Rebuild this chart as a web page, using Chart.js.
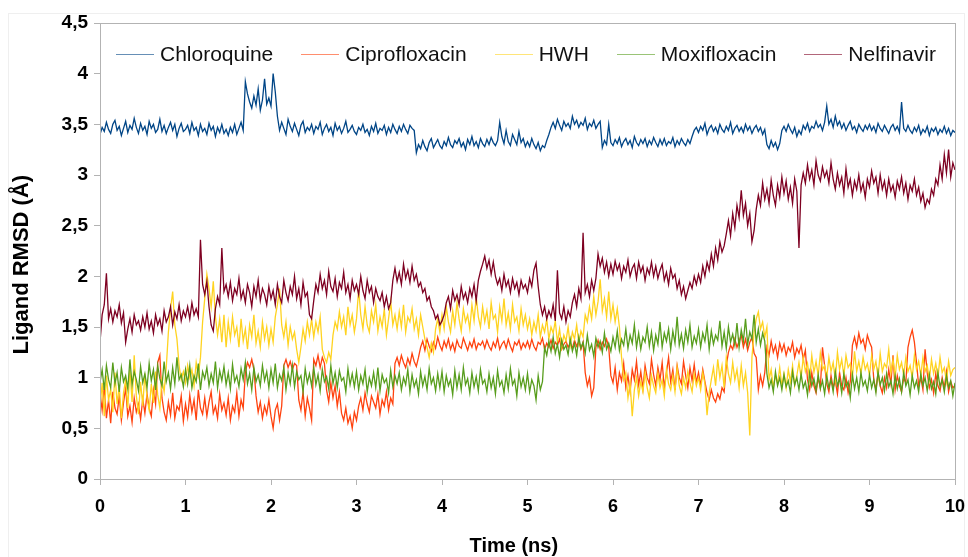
<!DOCTYPE html>
<html>
<head>
<meta charset="utf-8">
<script src="https://cdn.jsdelivr.net/npm/chart.js@4.4.1/dist/chart.umd.min.js"></script>
<style>
  html, body { margin: 0; padding: 0; background: #fff; }
  #wrap { position: relative; width: 968px; height: 557px; overflow: hidden; }
  #frame { position: absolute; left: 8px; top: 13px; width: 955px; height: 560px; border: 1px solid #efefef; }
  #chart { position: absolute; left: 0; top: 0; }
  #legend {
    position: absolute; left: 116px; top: 42px; display: flex; gap: 28px;
    font: 21px "Liberation Sans", Arial, sans-serif; color: #111;
  }
  .item { display: flex; align-items: center; }
  .swatch { display: block; width: 38px; height: 0; border-top: 1px solid; margin-right: 6px; opacity: .6; }
</style>
</head>
<body>
<div id="wrap">
  <div id="frame"></div>
  <canvas id="chart" width="968" height="557"></canvas>
  <div id="legend"></div>
</div>
<script>
// RMSD del ligando frente al tiempo, una muestra cada 0,025 ns (0 .. 10 ns).
const STEP = 0.025;
const SERIES = ["Chloroquine", "Ciprofloxacin", "HWH", "Moxifloxacin", "Nelfinavir"];
const COLORS = ["#004586", "#ff420e", "#ffd320", "#579d1c", "#7e0021"];
const Y_TICKS = [0, 0.5, 1, 1.5, 2, 2.5, 3, 3.5, 4, 4.5];
const X_TITLE = "Time (ns)";
const Y_TITLE = "Ligand RMSD (Å)";

// una fila = 0,5 ns
const CHLOROQUINE = [
  3.40,3.47,3.43,3.52,3.45,3.41,3.50,3.54,3.44,3.48,3.39,3.46,3.53,3.42,3.49,3.45,3.56,3.47,3.41,3.51,
  3.44,3.48,3.40,3.53,3.46,3.50,3.42,3.45,3.55,3.43,3.49,3.41,3.47,3.52,3.44,3.50,3.38,3.46,3.51,3.43,
  3.45,3.49,3.41,3.52,3.44,3.47,3.39,3.50,3.43,3.46,3.40,3.51,3.44,3.48,3.38,3.47,3.42,3.50,3.41,3.45,
  3.39,3.47,3.42,3.50,3.40,3.46,3.52,3.44,3.92,3.80,3.72,3.66,3.78,3.69,3.85,3.64,3.74,3.95,3.70,3.76,
  3.68,4.00,3.82,3.58,3.44,3.52,3.46,3.40,3.55,3.48,3.43,3.51,3.45,3.39,3.49,3.53,3.42,3.47,3.44,3.50,
  3.41,3.48,3.45,3.52,3.40,3.46,3.50,3.43,3.47,3.39,3.51,3.44,3.48,3.41,3.46,3.53,3.42,3.45,3.49,3.43,
  3.40,3.47,3.44,3.50,3.42,3.45,3.39,3.48,3.43,3.51,3.41,3.46,3.44,3.49,3.40,3.47,3.42,3.50,3.45,3.41,
  3.48,3.43,3.50,3.45,3.41,3.49,3.46,3.44,3.22,3.30,3.26,3.34,3.28,3.24,3.32,3.36,3.27,3.31,3.35,3.29,
  3.26,3.33,3.29,3.37,3.30,3.27,3.34,3.31,3.36,3.28,3.32,3.25,3.35,3.30,3.38,3.29,3.33,3.27,3.36,3.31,
  3.28,3.35,3.30,3.37,3.32,3.29,3.34,3.52,3.38,3.31,3.44,3.33,3.29,3.40,3.35,3.30,3.43,3.32,3.36,3.28,
  3.33,3.28,3.36,3.30,3.26,3.32,3.24,3.29,3.27,3.34,3.40,3.47,3.52,3.46,3.55,3.49,3.44,3.53,3.48,3.51,
  3.46,3.58,3.50,3.54,3.47,3.52,3.49,3.56,3.45,3.51,3.48,3.54,3.46,3.50,3.53,3.27,3.34,3.30,3.50,3.32,
  3.29,3.35,3.31,3.37,3.28,3.33,3.36,3.30,3.34,3.27,3.38,3.32,3.29,3.35,3.31,3.36,3.28,3.34,3.30,3.37,
  3.32,3.28,3.35,3.30,3.36,3.29,3.33,3.31,3.37,3.28,3.34,3.30,3.36,3.32,3.29,3.35,3.31,3.38,3.44,3.47,
  3.42,3.48,3.44,3.51,3.40,3.46,3.49,3.43,3.47,3.41,3.50,3.45,3.42,3.48,3.44,3.52,3.41,3.46,3.49,3.43,
  3.47,3.42,3.50,3.44,3.48,3.41,3.46,3.49,3.43,3.47,3.40,3.45,3.30,3.26,3.34,3.28,3.32,3.25,3.31,3.44,
  3.48,3.43,3.50,3.45,3.41,3.47,3.38,3.44,3.40,3.49,3.45,3.51,3.43,3.48,3.46,3.53,3.47,3.50,3.44,3.52,
  3.68,3.50,3.55,3.47,3.58,3.49,3.53,3.46,3.51,3.44,3.49,3.53,3.45,3.48,3.42,3.50,3.46,3.43,3.49,3.45,
  3.50,3.44,3.48,3.42,3.51,3.46,3.43,3.49,3.45,3.41,3.47,3.50,3.44,3.48,3.42,3.72,3.46,3.43,3.49,3.44,
  3.41,3.47,3.43,3.49,3.40,3.45,3.42,3.48,3.39,3.46,3.43,3.47,3.40,3.45,3.42,3.48,3.41,3.46,3.39,3.44,
  3.42,
];

const CIPROFLOXACIN = [
  0.85,0.68,0.92,0.60,0.78,0.55,0.86,0.70,0.64,0.82,0.58,0.75,0.90,0.62,0.72,0.56,0.80,0.66,0.74,0.59,
  0.79,0.65,0.84,0.70,0.62,0.88,0.74,1.15,1.22,0.80,0.66,0.58,0.76,0.63,0.85,0.60,0.72,0.68,0.82,0.57,
  0.74,0.61,0.83,0.66,0.78,0.58,0.88,0.70,0.64,0.80,0.62,0.76,0.86,0.65,0.72,0.60,0.84,0.68,0.75,0.63,
  0.80,0.58,0.72,0.66,0.85,0.62,0.78,0.70,1.05,1.15,1.10,1.18,1.08,0.82,0.66,0.76,0.60,0.72,0.64,0.78,
  0.62,0.50,0.68,0.74,0.58,0.72,1.12,1.18,1.10,1.16,1.08,1.14,1.12,0.78,0.68,0.86,0.62,0.80,0.70,0.58,
  1.18,1.12,1.22,1.10,1.20,1.14,0.88,0.76,0.95,0.80,0.92,0.72,0.86,0.65,0.58,0.70,0.55,0.62,0.50,0.66,
  0.58,0.72,0.80,0.68,0.85,0.74,0.66,0.82,0.76,0.70,0.84,0.64,0.78,0.72,0.86,0.68,0.80,0.74,1.14,1.20,
  1.12,1.22,1.15,1.10,1.19,1.13,1.24,1.16,1.11,1.20,1.30,1.36,1.27,1.38,1.31,1.26,1.35,1.29,1.40,1.32,
  1.27,1.36,1.30,1.38,1.28,1.34,1.26,1.37,1.31,1.29,1.39,1.33,1.27,1.35,1.30,1.38,1.28,1.34,1.32,1.36,
  1.29,1.37,1.31,1.27,1.35,1.30,1.39,1.28,1.33,1.36,1.29,1.38,1.31,1.26,1.35,1.32,1.37,1.28,1.34,1.30,
  1.36,1.29,1.38,1.31,1.27,1.35,1.33,1.39,1.28,1.34,1.30,1.37,1.29,1.35,1.32,1.38,1.28,1.33,1.36,1.30,
  1.34,1.29,1.37,1.31,1.36,1.28,1.35,1.05,0.92,1.00,0.82,0.90,1.30,1.37,1.28,1.35,1.31,1.38,1.30,1.02,
  0.95,1.10,0.88,1.05,0.97,1.14,0.90,1.02,0.86,1.08,0.98,1.16,0.93,1.06,0.89,1.12,1.00,0.94,1.18,1.03,
  0.92,1.10,0.98,1.15,0.90,1.05,1.20,0.96,1.08,0.88,1.12,1.00,0.94,1.16,1.02,0.90,1.10,0.97,1.13,0.95,
  1.05,0.92,1.08,0.96,0.85,0.78,0.88,0.80,0.76,0.84,0.79,0.90,0.86,1.12,1.25,1.32,1.28,1.38,1.30,1.36,
  1.42,1.30,1.38,1.27,1.35,1.40,1.24,1.20,0.88,1.02,0.92,1.05,1.30,1.22,1.36,1.25,1.32,1.20,1.34,1.26,
  1.33,1.22,1.30,1.26,1.35,1.20,1.29,1.24,1.32,1.18,1.27,0.98,0.88,1.05,0.92,0.85,1.00,0.90,1.30,1.12,
  0.94,0.86,1.02,0.90,0.97,0.84,1.05,0.92,0.88,1.00,0.85,0.96,1.32,1.40,1.30,1.44,1.34,1.38,1.28,1.42,
  1.35,1.30,0.98,0.88,1.05,0.92,0.85,1.00,0.90,1.08,0.94,1.22,0.88,1.02,0.92,0.86,1.00,0.95,1.30,1.40,
  1.47,1.35,1.15,0.92,1.00,0.88,1.28,1.05,0.90,0.98,0.85,1.04,0.92,0.87,1.00,0.90,1.06,0.86,0.96,0.90,
  0.92,
];

const HWH = [
  0.70,0.95,0.62,1.02,0.78,0.88,0.66,1.05,0.74,0.92,0.60,0.85,0.98,0.70,1.08,0.76,1.22,0.82,0.64,0.96,
  0.72,1.04,0.80,0.68,0.94,0.75,1.06,0.83,0.70,0.98,0.86,1.10,1.45,1.68,1.85,1.52,1.38,1.12,0.98,1.06,
  0.95,1.12,1.00,1.08,0.92,1.15,1.02,1.20,1.55,1.78,2.02,1.88,1.70,1.95,1.60,1.42,1.58,1.35,1.62,1.30,
  1.55,1.38,1.60,1.42,1.50,1.30,1.58,1.36,1.48,1.28,1.52,1.40,1.62,1.34,1.46,1.30,1.55,1.38,1.50,1.32,
  1.48,1.35,1.60,1.72,1.88,1.52,1.40,1.55,1.32,1.50,1.38,1.45,1.28,1.15,1.30,1.48,1.36,1.55,1.42,1.58,
  1.40,1.55,1.45,1.60,1.28,1.20,1.15,1.25,1.18,1.42,1.55,1.48,1.65,1.50,1.60,1.42,1.70,1.52,1.62,1.45,
  1.58,1.87,1.62,1.48,1.70,1.52,1.45,1.66,1.55,1.72,1.46,1.60,1.50,1.68,1.42,1.58,1.75,1.52,1.62,1.48,
  1.65,1.50,1.72,1.45,1.60,1.55,1.68,1.48,1.58,1.42,1.62,1.50,1.38,1.30,1.20,1.34,1.25,1.48,1.58,1.45,
  1.62,1.48,1.70,1.55,1.45,1.66,1.52,1.74,1.58,1.46,1.68,1.55,1.62,1.48,1.72,1.56,1.80,1.60,1.50,1.70,
  1.55,1.66,1.48,1.74,1.58,1.62,1.45,1.70,1.56,1.78,1.52,1.64,1.48,1.72,1.55,1.60,1.46,1.68,1.52,1.62,
  1.48,1.58,1.42,1.55,1.46,1.62,1.40,1.52,1.45,1.58,1.38,1.50,1.44,1.56,1.35,1.48,1.30,1.42,1.36,1.50,
  1.32,1.45,1.38,1.52,1.34,1.46,1.40,1.62,1.55,1.70,1.58,1.80,1.62,1.75,1.97,1.66,1.78,1.60,1.85,1.58,
  1.72,1.55,1.68,1.50,1.20,0.98,1.05,0.80,0.95,0.62,0.88,1.00,0.82,0.96,0.86,1.05,0.90,0.80,1.02,0.92,
  0.85,1.04,0.90,0.98,0.82,1.08,0.94,0.88,1.02,0.86,1.10,0.92,0.84,1.00,0.90,1.06,0.95,0.86,1.04,0.92,
  1.00,0.88,1.05,0.94,0.63,0.85,0.98,1.10,0.92,1.18,1.00,1.12,0.90,1.20,1.04,0.95,1.15,0.98,1.08,0.90,
  1.12,0.92,1.05,0.85,0.43,1.20,1.45,1.58,1.65,1.48,1.55,1.40,1.50,0.98,1.08,0.90,1.02,0.94,1.10,0.92,
  1.04,0.90,1.08,0.96,1.12,0.92,1.02,1.15,1.00,1.20,1.06,1.14,0.98,1.22,1.05,1.16,1.02,1.24,1.08,1.12,
  1.00,1.20,1.06,1.15,0.98,1.25,1.08,1.18,1.02,1.22,1.10,1.14,1.00,1.26,1.06,1.16,1.04,1.20,1.08,1.14,
  1.02,1.22,1.08,1.16,1.00,1.24,1.06,1.14,1.10,1.28,1.04,1.18,1.00,1.22,1.08,1.15,1.02,1.20,1.06,1.12,
  1.00,1.22,1.08,1.16,1.02,1.20,1.06,1.12,0.98,1.18,1.04,1.14,1.00,1.20,1.05,1.10,0.96,1.16,1.02,1.08,
  1.10,
];

const MOXIFLOXACIN = [
  0.95,1.08,0.88,1.12,0.98,0.90,1.15,0.94,1.05,0.86,1.10,0.96,1.02,0.89,1.18,0.93,1.06,0.98,0.87,1.11,
  0.95,1.04,0.90,1.14,0.97,1.08,0.88,1.12,0.99,0.92,1.16,0.96,1.05,0.89,1.10,0.94,1.20,0.98,1.03,0.91,
  1.08,0.94,1.12,0.90,1.02,0.96,1.14,0.88,1.06,0.99,1.10,0.92,1.04,0.95,1.16,0.90,1.07,0.97,1.11,0.93,
  1.05,0.89,1.13,0.96,1.02,0.91,1.09,0.98,1.15,0.94,1.04,0.88,1.10,0.96,1.03,0.92,1.12,0.97,1.06,0.90,
  1.08,0.95,1.14,0.90,1.03,0.97,1.10,0.88,1.05,0.94,1.12,0.91,1.06,0.98,1.02,0.86,1.09,0.95,1.04,0.92,
  1.10,0.93,1.03,0.87,1.08,0.96,1.01,0.89,1.12,0.94,1.05,0.90,1.07,0.97,1.00,0.86,1.09,0.93,1.04,0.91,
  1.06,0.88,1.02,0.94,1.08,0.86,1.00,0.92,1.05,0.90,1.10,0.87,1.03,0.95,0.99,0.85,1.07,0.91,1.02,0.94,
  1.05,0.88,1.00,0.93,1.08,0.86,1.03,0.91,0.98,0.84,1.06,0.92,1.01,0.88,1.09,0.94,1.00,0.87,1.04,0.90,
  1.06,0.86,1.02,0.92,0.98,0.83,1.07,0.90,1.03,0.88,1.10,0.93,0.99,0.85,1.05,0.91,1.01,0.87,1.08,0.94,
  0.98,0.86,1.04,0.90,1.00,0.84,1.07,0.92,0.97,0.85,1.03,0.89,1.09,0.93,0.98,0.82,1.05,0.91,1.00,0.88,
  1.04,0.86,0.98,0.92,0.78,1.02,0.88,0.96,1.30,1.22,1.36,1.26,1.40,1.24,1.33,1.20,1.37,1.28,1.32,1.23,
  1.38,1.26,1.34,1.22,1.40,1.29,1.35,1.24,1.42,1.27,1.33,1.21,1.39,1.30,1.36,1.25,1.44,1.28,1.34,1.26,
  1.40,1.30,1.46,1.27,1.38,1.32,1.48,1.29,1.42,1.34,1.52,1.30,1.44,1.28,1.40,1.35,1.50,1.31,1.45,1.27,
  1.42,1.33,1.55,1.30,1.44,1.36,1.48,1.28,1.46,1.34,1.60,1.32,1.43,1.29,1.47,1.35,1.52,1.30,1.41,1.34,
  1.48,1.30,1.44,1.36,1.52,1.28,1.46,1.33,1.42,1.37,1.56,1.31,1.45,1.29,1.50,1.35,1.43,1.32,1.54,1.30,
  1.47,1.36,1.58,1.33,1.45,1.38,1.62,1.35,1.48,1.32,1.44,1.36,1.04,0.90,0.98,0.86,1.06,0.92,1.00,0.88,
  1.03,0.91,0.97,0.85,1.06,0.93,1.00,0.88,1.04,0.90,0.96,0.83,1.05,0.92,0.99,0.87,1.03,0.89,0.97,0.84,
  1.02,0.90,0.98,0.86,1.06,0.92,0.99,0.85,1.04,0.91,0.96,0.80,1.03,0.89,1.00,0.86,1.05,0.92,0.97,0.87,
  1.03,0.90,0.98,0.85,1.06,0.93,1.00,0.87,1.04,0.91,0.97,0.84,1.02,0.89,0.99,0.86,1.05,0.92,0.98,0.83,
  1.02,0.90,0.97,0.86,1.04,0.92,1.00,0.87,1.03,0.89,0.96,0.84,1.05,0.91,0.98,0.86,1.02,0.90,0.97,0.82,
  0.95,
];

const NELFINAVIR = [
  1.35,1.62,1.72,2.03,1.58,1.68,1.55,1.66,1.60,1.72,1.54,1.64,1.35,1.48,1.58,1.45,1.62,1.52,1.56,1.47,
  1.60,1.50,1.64,1.48,1.56,1.44,1.62,1.52,1.58,1.46,1.66,1.55,1.60,1.70,1.52,1.65,1.58,1.72,1.56,1.66,
  1.60,1.70,1.58,1.74,1.62,1.68,1.60,2.36,1.92,1.82,1.95,1.70,1.52,1.46,1.68,1.80,1.72,2.28,1.85,1.92,
  1.80,1.94,1.76,1.88,1.82,1.98,1.78,1.86,1.74,1.92,1.84,1.70,1.90,1.80,1.96,1.76,1.88,1.82,1.72,1.90,
  1.78,1.86,1.72,1.92,1.80,1.74,1.96,1.84,1.76,1.90,1.82,2.00,1.78,1.88,1.72,1.94,1.80,1.84,1.62,1.58,
  1.76,1.92,1.84,2.02,1.88,1.96,1.82,2.05,1.90,1.85,1.98,1.80,1.94,1.88,2.04,1.84,1.92,1.78,1.96,1.86,
  1.92,1.82,2.00,1.86,1.78,1.96,1.84,1.90,1.74,1.88,1.80,1.76,1.84,1.70,1.80,1.68,1.74,1.96,2.08,1.95,
  2.04,1.92,2.12,1.98,2.06,1.94,2.10,1.96,2.02,1.90,1.94,1.84,1.88,1.76,1.80,1.70,1.66,1.58,1.62,1.52,
  1.56,1.62,1.74,1.80,1.68,1.86,1.76,1.82,1.72,1.90,1.78,1.84,1.74,1.88,1.80,1.92,1.76,1.96,2.05,2.12,
  2.20,2.08,2.16,2.02,2.14,2.00,1.92,1.98,1.86,2.02,1.90,1.96,1.84,1.98,1.88,1.94,1.82,1.96,1.88,1.92,
  1.84,1.98,1.90,2.06,2.13,1.90,1.72,1.62,1.70,1.58,1.66,1.60,1.72,1.56,2.06,1.64,1.58,1.70,1.55,1.66,
  1.60,1.74,1.82,1.70,1.88,1.78,2.43,1.84,1.92,1.80,1.96,1.86,1.98,2.22,2.10,2.18,2.04,2.14,2.00,2.12,
  2.02,2.15,2.06,2.12,1.98,2.10,2.04,2.16,2.00,2.08,2.12,1.98,2.14,2.04,2.10,1.96,2.08,2.02,2.14,2.00,
  2.10,1.98,2.06,2.12,1.96,2.04,1.92,2.08,1.98,2.02,1.88,1.96,1.82,1.90,1.78,1.86,1.94,1.88,2.00,1.92,
  2.02,1.94,2.10,2.00,2.14,2.06,2.22,2.10,2.28,2.16,2.34,2.24,2.30,2.42,2.55,2.40,2.62,2.48,2.70,2.58,
  2.85,2.60,2.72,2.50,2.62,2.34,2.45,2.66,2.80,2.70,2.92,2.76,2.86,2.72,2.95,2.80,2.70,2.90,2.78,2.98,
  2.82,2.94,2.76,2.88,2.72,2.96,2.84,2.28,2.90,3.02,2.92,3.10,2.96,3.05,2.90,3.14,3.00,2.94,3.08,2.98,
  3.04,2.92,3.12,2.96,2.86,3.02,2.90,2.98,2.82,3.06,2.88,2.96,2.80,2.94,2.86,3.00,2.84,2.92,2.78,2.96,
  2.88,3.04,2.92,2.98,2.82,3.00,2.86,2.94,2.80,2.96,2.84,2.90,2.78,2.94,2.86,2.98,2.82,2.92,2.76,2.90,
  2.84,2.96,2.80,2.88,2.74,2.82,2.68,2.76,2.72,2.86,2.80,2.96,2.90,3.10,2.96,3.20,3.02,3.25,2.98,3.12,
  3.05,
];

const VALUES = [CHLOROQUINE, CIPROFLOXACIN, HWH, MOXIFLOXACIN, NELFINAVIR];

const FONT = "'Liberation Sans', Arial, sans-serif";
const AXIS_GREY = "#b3b3b3";
const coma = v => String(v).replace(".", ",");

// Marco gris alrededor del área de trazado y títulos de los ejes
// (el original no los centra sobre el área de trazado).
const plotFrame = {
  id: "plotFrame",
  afterDraw(chart) {
    const { ctx, chartArea: a } = chart;
    ctx.save();
    ctx.strokeStyle = AXIS_GREY;
    ctx.lineWidth = 1;
    ctx.strokeRect(Math.round(a.left) + 0.5, Math.round(a.top) + 0.5,
      Math.round(a.width), Math.round(a.height));

    ctx.fillStyle = "#000";
    ctx.textAlign = "center";
    ctx.textBaseline = "middle";
    ctx.font = `bold 20px ${FONT}`;
    ctx.fillText(X_TITLE, a.left + a.width * 0.484, 546);
    ctx.font = `bold 22px ${FONT}`;
    ctx.translate(22, a.top + a.height * 0.53);
    ctx.rotate(-Math.PI / 2);
    ctx.fillText(Y_TITLE, 0, 0);
    ctx.restore();
  },
};

function renderLegend() {
  document.getElementById("legend").innerHTML = SERIES.map((s, i) => `
    <div class="item">
      <span class="swatch" style="border-top-color:${COLORS[i]}"></span>${s}
    </div>`).join("");
}

new Chart(document.getElementById("chart"), {
  type: "line",
  data: {
    datasets: SERIES.map((s, i) => ({
      label: s,
      data: VALUES[i].map((v, k) => ({ x: k * STEP, y: v })),
      borderColor: COLORS[i],
      borderWidth: 1.3,
      pointRadius: 0,
      tension: 0,
      order: SERIES.length - i, // Nelfinavir queda encima, como en el original
    })),
  },
  options: {
    responsive: false,
    animation: false,
    events: [],
    layout: { padding: { left: 0, right: 13, top: 23, bottom: 0 } },
    plugins: { legend: { display: false }, tooltip: { enabled: false } },
    scales: {
      x: {
        type: "linear", min: 0, max: 10,
        afterFit: s => { s.height = 78; s.paddingLeft = 0; s.paddingRight = 0; },
        border: { color: AXIS_GREY },
        grid: { drawOnChartArea: false, tickLength: 6, tickColor: AXIS_GREY },
        ticks: { stepSize: 1, padding: 11, color: "#000", font: { family: FONT, size: 18, weight: "bold" } },
      },
      y: {
        min: 0, max: 4.5,
        afterFit: s => { s.width = 100; },
        afterBuildTicks: s => { s.ticks = Y_TICKS.map(v => ({ value: v })); },
        border: { color: AXIS_GREY },
        grid: { drawOnChartArea: false, tickLength: 6, tickColor: AXIS_GREY },
        ticks: { padding: 6, color: "#000", callback: coma, font: { family: FONT, size: 19, weight: "bold" } },
      },
    },
  },
  plugins: [plotFrame],
});

renderLegend();
</script>
</body>
</html>
